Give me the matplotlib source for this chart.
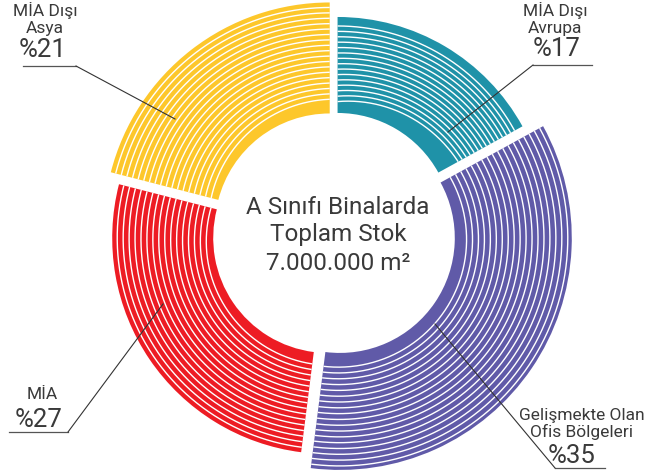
import numpy as np
import matplotlib.pyplot as plt
from matplotlib.patches import Wedge

plt.rcParams['font.family'] = ['Roboto', 'DejaVu Sans']

W, H = 658, 477

# data
names = ['MİA Dışı\nAvrupa', 'Gelişmekte Olan\nOfis Bölgeleri', 'MİA', 'MİA Dışı\nAsya']
shares = [17, 35, 27, 21]
center_lines = ['A Sınıfı Binalarda', 'Toplam Stok', '7.000.000 m²']

# style
colors = ['#1f92a8', '#605aa8', '#ed1c24', '#fdc72b']
outer_r = [211, 232, 216, 226]
inner_r = 115
n_lines = [15, 18, 16, 18]
spacing = [(5.4, 4.6), (6.0, 5.8), (5.6, 6.0), (5.8, 5.4)]
top_gap = [9, 4, 5, 5]
explode = 7
cx, cy = 334, H - 235
txt_col = '#3a3a3a'

# label layout in pixel coords (x, y from top)
name_pos = [(555, 19), (582, 424), (42, 395), (45, 19)]
pct_pos = [(557, 49), (572, 456), (39, 420), (43, 50)]
underline = [((533, 592), 66), ((555, 605), 469), ((9, 68), 433), ((23, 76), 67)]
leader = [((533, 66), (448, 133)), ((555, 469), (435, 325)),
          ((68, 433), (163, 305)), ((76, 67), (175, 120))]

fig = plt.figure(figsize=(W / 100, H / 100), dpi=100)
ax = fig.add_axes([0, 0, 1, 1])
ax.set_xlim(0, W)
ax.set_ylim(0, H)
ax.axis('off')

start = 90.0
for k, share in enumerate(shares):
    t0 = start
    t1 = start - 360 * share / 100
    start = t1
    mid = np.radians((t0 + t1) / 2)
    ox = cx + explode * np.cos(mid)
    oy = cy + explode * np.sin(mid)
    R = outer_r[k]
    ax.add_patch(Wedge((ox, oy), R, t1, t0, width=R - inner_r,
                       facecolor=colors[k], edgecolor='none'))
    # white stripes, spacing drifting along the arc
    th = np.linspace(t0, t1, 200)
    s = np.linspace(spacing[k][0], spacing[k][1], th.size)
    for i in range(n_lines[k]):
        r = R - top_gap[k] - i * s
        ax.plot(ox + r * np.cos(np.radians(th)), oy + r * np.sin(np.radians(th)),
                color='white', lw=1.0, solid_capstyle='butt')

for k in range(len(shares)):
    x, y = name_pos[k]
    ax.text(x, H - y, names[k], ha='center', va='center', fontsize=12.5,
            color=txt_col, linespacing=1.1)
    x, y = pct_pos[k]
    ax.text(x, H - y, f'%{shares[k]}', ha='center', va='center', fontsize=18.5,
            color=txt_col)
    (x0, x1), y = underline[k]
    ax.plot([x0, x1], [H - y, H - y], color='#555555', lw=0.9)
    (a, b), (c, d) = leader[k]
    ax.plot([a, c], [H - b, H - d], color='#333333', lw=0.8)

for j, line in enumerate(center_lines):
    ax.text(338, H - (207 + 28 * j), line, ha='center', va='center',
            fontsize=17.5, color=txt_col)

fig.savefig('out.png', dpi=100)
